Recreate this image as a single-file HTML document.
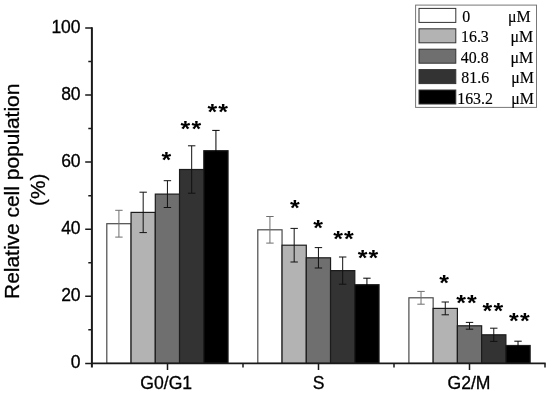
<!DOCTYPE html>
<html><head><meta charset="utf-8"><title>Relative cell population</title>
<style>html,body{margin:0;padding:0;background:#fff}svg{display:block}text{font-family:"Liberation Sans",Arial,sans-serif;fill:#000;stroke:#000;stroke-width:0.3px}.s{font-family:"Liberation Serif","Times New Roman",serif;stroke-width:0.15px}</style>
</head><body>
<svg width="550" height="393" viewBox="0 0 550 393">
<rect width="550" height="393" fill="#fff"/>
<rect x="106.80" y="223.70" width="24.25" height="139.70" fill="#ffffff" stroke="#4a4a4a" stroke-width="1.2"/>
<rect x="131.05" y="212.40" width="24.25" height="151.00" fill="#b3b3b3" stroke="#1c1c1c" stroke-width="1.2"/>
<rect x="155.30" y="194.10" width="24.25" height="169.30" fill="#6f6f6f" stroke="#1c1c1c" stroke-width="1.2"/>
<rect x="179.55" y="169.50" width="24.25" height="193.90" fill="#333333" stroke="#1c1c1c" stroke-width="1.2"/>
<rect x="203.80" y="150.70" width="24.25" height="212.70" fill="#000000" stroke="#1c1c1c" stroke-width="1.2"/>
<rect x="257.80" y="229.80" width="24.25" height="133.60" fill="#ffffff" stroke="#4a4a4a" stroke-width="1.2"/>
<rect x="282.05" y="245.20" width="24.25" height="118.20" fill="#b3b3b3" stroke="#1c1c1c" stroke-width="1.2"/>
<rect x="306.30" y="257.80" width="24.25" height="105.60" fill="#6f6f6f" stroke="#1c1c1c" stroke-width="1.2"/>
<rect x="330.55" y="270.60" width="24.25" height="92.80" fill="#333333" stroke="#1c1c1c" stroke-width="1.2"/>
<rect x="354.80" y="284.70" width="24.25" height="78.70" fill="#000000" stroke="#1c1c1c" stroke-width="1.2"/>
<rect x="408.90" y="297.80" width="24.25" height="65.60" fill="#ffffff" stroke="#4a4a4a" stroke-width="1.2"/>
<rect x="433.15" y="308.40" width="24.25" height="55.00" fill="#b3b3b3" stroke="#1c1c1c" stroke-width="1.2"/>
<rect x="457.40" y="325.80" width="24.25" height="37.60" fill="#6f6f6f" stroke="#1c1c1c" stroke-width="1.2"/>
<rect x="481.65" y="334.80" width="24.25" height="28.60" fill="#333333" stroke="#1c1c1c" stroke-width="1.2"/>
<rect x="505.90" y="345.50" width="24.25" height="17.90" fill="#000000" stroke="#1c1c1c" stroke-width="1.2"/>
<path d="M118.92 210.30V237.10M115.22 210.30h7.4M115.22 237.10h7.4" stroke="#6e6e6e" stroke-width="1" fill="none"/>
<path d="M143.18 192.20V232.60M139.48 192.20h7.4M139.48 232.60h7.4" stroke="#111" stroke-width="1" fill="none"/>
<path d="M167.43 180.70V207.50M163.73 180.70h7.4M163.73 207.50h7.4" stroke="#111" stroke-width="1" fill="none"/>
<path d="M191.68 145.80V193.20M187.98 145.80h7.4M187.98 193.20h7.4" stroke="#111" stroke-width="1" fill="none"/>
<path d="M215.93 130.40V171.00M212.23 130.40h7.4M212.23 171.00h7.4" stroke="#000" stroke-width="1" fill="none"/>
<path d="M269.93 216.50V243.10M266.23 216.50h7.4M266.23 243.10h7.4" stroke="#6e6e6e" stroke-width="1" fill="none"/>
<path d="M294.18 228.40V262.00M290.48 228.40h7.4M290.48 262.00h7.4" stroke="#111" stroke-width="1" fill="none"/>
<path d="M318.43 247.60V268.00M314.73 247.60h7.4M314.73 268.00h7.4" stroke="#111" stroke-width="1" fill="none"/>
<path d="M342.68 257.00V284.20M338.98 257.00h7.4M338.98 284.20h7.4" stroke="#111" stroke-width="1" fill="none"/>
<path d="M366.93 278.20V291.20M363.23 278.20h7.4M363.23 291.20h7.4" stroke="#000" stroke-width="1" fill="none"/>
<path d="M421.02 291.40V304.20M417.32 291.40h7.4M417.32 304.20h7.4" stroke="#6e6e6e" stroke-width="1" fill="none"/>
<path d="M445.27 302.00V314.80M441.57 302.00h7.4M441.57 314.80h7.4" stroke="#111" stroke-width="1" fill="none"/>
<path d="M469.52 322.40V329.20M465.82 322.40h7.4M465.82 329.20h7.4" stroke="#111" stroke-width="1" fill="none"/>
<path d="M493.77 328.20V341.40M490.07 328.20h7.4M490.07 341.40h7.4" stroke="#111" stroke-width="1" fill="none"/>
<path d="M518.02 341.20V349.80M514.32 341.20h7.4M514.32 349.80h7.4" stroke="#000" stroke-width="1" fill="none"/>
<path d="M91.9 27.20V367.40" stroke="#1a1a1a" stroke-width="2" fill="none"/>
<path d="M91 363.40H545.7" stroke="#1a1a1a" stroke-width="1.6" fill="none"/>
<path d="M85.2 363.40H92M85.2 296.30H92M85.2 229.20H92M85.2 162.10H92M85.2 95.00H92M85.2 27.90H92M88.3 329.85H92M88.3 262.75H92M88.3 195.65H92M88.3 128.55H92M88.3 61.45H92" stroke="#1a1a1a" stroke-width="1.5" fill="none"/>
<path d="M167.5 363.4V369.90M318.5 363.4V369.90M469.5 363.4V369.90M243.0 363.4V367.40M394.0 363.4V367.40M545.0 363.4V367.40" stroke="#1a1a1a" stroke-width="1.5" fill="none"/>
<text x="80.6" y="368.10" font-size="17.5" text-anchor="end">0</text>
<text x="80.6" y="301.00" font-size="17.5" text-anchor="end">20</text>
<text x="80.6" y="233.90" font-size="17.5" text-anchor="end">40</text>
<text x="80.6" y="166.80" font-size="17.5" text-anchor="end">60</text>
<text x="80.6" y="99.70" font-size="17.5" text-anchor="end">80</text>
<text x="80.6" y="32.60" font-size="17.5" text-anchor="end">100</text>
<text x="166.2" y="388.8" font-size="17.6" text-anchor="middle">G0/G1</text>
<text x="318.7" y="388.8" font-size="17.6" text-anchor="middle">S</text>
<text x="469.0" y="388.8" font-size="17.6" text-anchor="middle">G2/M</text>
<text transform="translate(18.8 191.3) rotate(-90)" font-size="20.95" text-anchor="middle">Relative cell population</text>
<text transform="translate(44.8 189.8) rotate(-90)" font-size="20.7" text-anchor="middle">(%)</text>
<text transform="translate(167.0 156.3) scale(1 0.88)" y="12.1" font-size="25" letter-spacing="1.2" style="stroke:none" font-weight="bold" text-anchor="middle">*</text>
<text transform="translate(191.5 124.9) scale(1 0.88)" y="12.1" font-size="25" letter-spacing="1.2" style="stroke:none" font-weight="bold" text-anchor="middle">**</text>
<text transform="translate(218.3 108.0) scale(1 0.88)" y="12.1" font-size="25" letter-spacing="1.2" style="stroke:none" font-weight="bold" text-anchor="middle">**</text>
<text transform="translate(295.4 204.4) scale(1 0.88)" y="12.1" font-size="25" letter-spacing="1.2" style="stroke:none" font-weight="bold" text-anchor="middle">*</text>
<text transform="translate(318.6 224.6) scale(1 0.88)" y="12.1" font-size="25" letter-spacing="1.2" style="stroke:none" font-weight="bold" text-anchor="middle">*</text>
<text transform="translate(344.1 235.2) scale(1 0.88)" y="12.1" font-size="25" letter-spacing="1.2" style="stroke:none" font-weight="bold" text-anchor="middle">**</text>
<text transform="translate(368.6 254.1) scale(1 0.88)" y="12.1" font-size="25" letter-spacing="1.2" style="stroke:none" font-weight="bold" text-anchor="middle">**</text>
<text transform="translate(444.8 279.2) scale(1 0.88)" y="12.1" font-size="25" letter-spacing="1.2" style="stroke:none" font-weight="bold" text-anchor="middle">*</text>
<text transform="translate(467.1 299.6) scale(1 0.88)" y="12.1" font-size="25" letter-spacing="1.2" style="stroke:none" font-weight="bold" text-anchor="middle">**</text>
<text transform="translate(493.4 307.2) scale(1 0.88)" y="12.1" font-size="25" letter-spacing="1.2" style="stroke:none" font-weight="bold" text-anchor="middle">**</text>
<text transform="translate(520.0 317.1) scale(1 0.88)" y="12.1" font-size="25" letter-spacing="1.2" style="stroke:none" font-weight="bold" text-anchor="middle">**</text>
<rect x="415.6" y="5.1" width="120.9" height="102.3" fill="#fff" stroke="#777" stroke-width="1"/>
<rect x="419" y="8.40" width="36.8" height="14" fill="#ffffff" stroke="#333" stroke-width="1"/>
<text class="s" x="462.3" y="22.00" font-size="15.9">0</text>
<text class="s" x="508.0" y="22.00" font-size="15.9">μM</text>
<rect x="419" y="28.80" width="36.8" height="14" fill="#b3b3b3" stroke="#333" stroke-width="1"/>
<text class="s" x="461.0" y="42.40" font-size="15.9">16.3</text>
<text class="s" x="510.5" y="42.40" font-size="15.9">μM</text>
<rect x="419" y="49.20" width="36.8" height="14" fill="#6f6f6f" stroke="#333" stroke-width="1"/>
<text class="s" x="460.8" y="62.80" font-size="15.9">40.8</text>
<text class="s" x="510.5" y="62.80" font-size="15.9">μM</text>
<rect x="419" y="69.60" width="36.8" height="14" fill="#333333" stroke="#333" stroke-width="1"/>
<text class="s" x="461.3" y="83.20" font-size="15.9">81.6</text>
<text class="s" x="511.3" y="83.20" font-size="15.9">μM</text>
<rect x="419" y="90.00" width="36.8" height="14" fill="#000000" stroke="#333" stroke-width="1"/>
<text class="s" x="457.2" y="103.60" font-size="15.9">163.2</text>
<text class="s" x="511.3" y="103.60" font-size="15.9">μM</text>
</svg></body></html>
